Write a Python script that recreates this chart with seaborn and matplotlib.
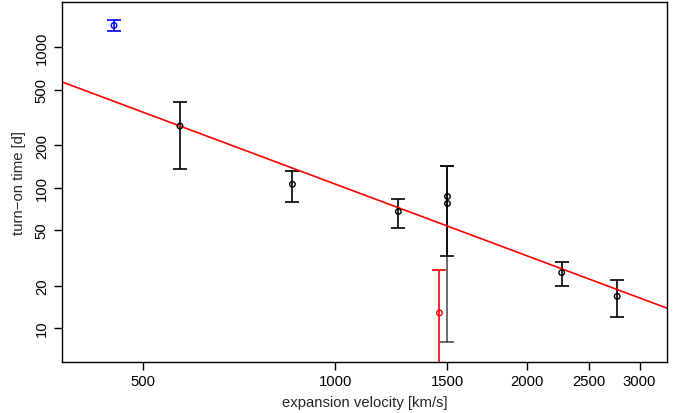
import numpy as np
import pandas as pd
import matplotlib
matplotlib.use("Agg")
import matplotlib.pyplot as plt
import seaborn as sns

# ---- data ----
velocity = [450, 571, 857, 1256, 1500, 1500, 1457, 2265, 2768]
turn_on = [1432, 275, 105.8, 67.6, 86.5, 77.1, 12.8, 24.8, 16.8]
err_low = [1297, 136, 79.2, 51.6, 32.6, 7.9, 1.0, 19.8, 11.9]
err_high = [1554, 410, 131, 82.8, 143, 143, 25.7, 29.7, 21.8]
group = ["blue", "black", "black", "black", "black", "black2", "red", "black", "black"]
fit_intercept = 7.1255   # log10(t) = a + b*log10(v)
fit_slope = -1.70

x_ticks = [500, 1000, 1500, 2000, 2500, 3000]
y_ticks = [10, 20, 50, 100, 200, 500, 1000]
x_lim = (373, 3313)
y_lim = (5.75, 2104)

palette = {"blue": "#0000FF", "black": "#000000", "black2": "#000000", "red": "#FF0000"}
alphas = {"blue": 1.0, "black": 1.0, "black2": 0.68, "red": 1.0}

df = pd.DataFrame({"v": velocity, "t": turn_on, "lo": err_low, "hi": err_high, "g": group})

sns.set_style("white")
plt.rcParams["font.family"] = ["Liberation Sans", "DejaVu Sans"]
plt.rcParams["axes.unicode_minus"] = True

fig = plt.figure(figsize=(6.78, 4.14), dpi=100)
ax = fig.add_axes([62 / 678, 1 - 362.7 / 414, (667 - 62) / 678, (362.7 - 3) / 414])

ax.set_xscale("log")
ax.set_yscale("log")

# error bars (faded one drawn first)
order = sorted(range(len(df)), key=lambda i: 0 if df.loc[i, "g"] == "black2" else 1)
for i in order:
    r = df.loc[i]
    ax.errorbar(r["v"], r["t"], yerr=[[r["t"] - r["lo"]], [r["hi"] - r["t"]]],
                fmt="none", ecolor=palette[r["g"]], alpha=alphas[r["g"]],
                elinewidth=1.2, capsize=4.9, capthick=1.2, zorder=2)

# points
sns.scatterplot(data=df, x="v", y="t", hue="g", palette=palette, legend=False,
                marker="o", s=16, linewidth=1.0, ax=ax, zorder=3)
coll = ax.collections[-1]
coll.set_edgecolors(coll.get_facecolors())
coll.set_facecolors("none")

# fit line
v_grid = np.geomspace(x_lim[0] * 0.9, x_lim[1] * 1.1, 50)
fit_df = pd.DataFrame({"v": v_grid, "t": 10 ** (fit_intercept + fit_slope * np.log10(v_grid))})
sns.lineplot(data=fit_df, x="v", y="t", color="#FF0000", linewidth=1.2, ax=ax, zorder=2.5)

ax.set_xlim(*x_lim)
ax.set_ylim(*y_lim)
ax.set_xticks(x_ticks)
ax.set_xticklabels([str(x) for x in x_ticks])
ax.set_yticks(y_ticks)
ax.set_yticklabels([str(y) for y in y_ticks], rotation=90, va="center")
ax.minorticks_off()
ax.tick_params(axis="both", which="major", direction="out", length=5.5, width=1,
               color="black", labelsize=10.7, labelcolor="black", left=True, bottom=True)
ax.tick_params(axis="x", pad=3.5)
ax.tick_params(axis="y", pad=4)

for s in ax.spines.values():
    s.set_visible(True)
    s.set_color("black")
    s.set_linewidth(1.0)

ax.set_xlabel("expansion velocity [km/s]", fontsize=10.7, labelpad=5)
ax.set_ylabel("turn\u2212on time [d]", fontsize=10.7, labelpad=6)

fig.savefig("out.png", dpi=100)
